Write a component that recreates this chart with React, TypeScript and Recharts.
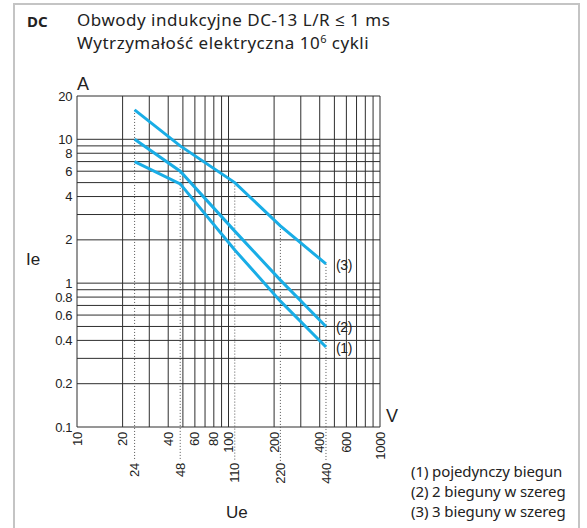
import React from 'react';
import { LineChart, Line, XAxis, YAxis, ReferenceLine } from 'recharts';

// napięcie Ue [V] w punktach załamania krzywych
const voltages = [24, 48, 110, 220, 440];
// prąd Ie [A] dla każdej krzywej
const onePole = [7, 4.9, 1.7, 0.75, 0.36];
const twoPoles = [10, 6, 2.3, 1.05, 0.5];
const threePoles = [16, 9, 5, 2.5, 1.36];

const xTicks = [10, 20, 40, 60, 80, 100, 200, 400, 600, 1000];
const xSubTicks = [24, 48, 110, 220, 440];
const yTicks = [0.1, 0.2, 0.4, 0.6, 0.8, 1, 2, 4, 6, 8, 10, 20];

const xGrid = [10, 20, 30, 40, 50, 60, 70, 80, 90, 100, 200, 300, 400, 500, 600, 700, 800, 900, 1000];
const yGrid = [0.1, 0.2, 0.3, 0.4, 0.5, 0.6, 0.7, 0.8, 0.9, 1, 2, 3, 4, 5, 6, 7, 8, 9, 10, 20];

const curveNames = ['(1)', '(2)', '(3)'];
const legendLines = ['(1) pojedynczy biegun', '(2) 2 bieguny w szereg', '(3) 3 bieguny w szereg'];

const data = voltages.map((v, i) => ({ v, c1: onePole[i], c2: twoPoles[i], c3: threePoles[i] }));

const BLUE = '#19ade6';
const GRID = '#2e2e2e';
const tickFont = '"Liberation Sans Narrow", "Liberation Sans", Arial, sans-serif';
const textFont = '"Noto Sans", "Open Sans", sans-serif';

const XTick = (props: any) => {
  const { x, y, payload } = props;
  return (
    <text x={x} y={y} transform={`rotate(-90 ${x} ${y})`} textAnchor="end" dy="0.35em"
      fontSize={13} letterSpacing={-0.3} fontFamily={tickFont} fill="#222">
      {payload.value}
    </text>
  );
};

const YTick = (props: any) => {
  const { x, y, payload } = props;
  return (
    <text x={x} y={y} textAnchor="end" dy="0.35em" fontSize={13} letterSpacing={-0.4} fontFamily={tickFont} fill="#222">
      {payload.value}
    </text>
  );
};

const endLabel = (name: string) => (props: any) => {
  const { x, y, index } = props;
  if (index !== voltages.length - 1) return null;
  return (
    <text key={name} x={x + 10} y={y + 1} dy="0.35em" fontSize={14} letterSpacing={-0.3} fontFamily={tickFont} fill="#222">
      {name}
    </text>
  );
};

export default function App() {
  return (
    <div style={{ position: 'absolute', left: 0, top: 0, width: 587, height: 528, background: '#fff', overflow: 'hidden' }}>
      <div style={{ position: 'absolute', left: 13, top: 3, width: 563, height: 540, border: '2px solid #c4c4c4' }} />
      <div style={{ position: 'absolute', left: 27, top: 11, fontFamily: textFont, fontSize: 15, fontWeight: 700, color: '#222' }}>DC</div>
      <div style={{ position: 'absolute', left: 77, top: 8, fontFamily: textFont, fontSize: 17, lineHeight: '23px', letterSpacing: 0.5, color: '#222' }}>
        Obwody indukcyjne DC-13 L/R ≤ 1 ms<br />
        Wytrzymałość elektryczna 10<sup style={{ fontSize: 11, verticalAlign: 'top', lineHeight: '16px' }}>6</sup> cykli
      </div>
      <LineChart width={587} height={528} data={data} margin={{ top: 96, right: 207, bottom: 31, left: 37 }}
        style={{ position: 'absolute', left: 0, top: 0 }}>
        <XAxis dataKey="v" type="number" scale="log" domain={[10, 1000]} allowDataOverflow ticks={xTicks}
          interval={0} axisLine={false} tickLine={false} tickSize={0} tickMargin={5} height={30} tick={<XTick />} />
        <XAxis xAxisId="sub" dataKey="v" type="number" scale="log" domain={[10, 1000]} allowDataOverflow ticks={xSubTicks}
          interval={0} axisLine={false} tickLine={false} tickSize={0} tickMargin={6} height={40} tick={<XTick />} />
        <YAxis type="number" scale="log" domain={[0.1, 20]} allowDataOverflow ticks={yTicks} interval={0}
          axisLine={false} tickLine={false} tickSize={0} tickMargin={5} width={40} tick={<YTick />} />
        {xGrid.map(g => (
          <ReferenceLine key={`x${g}`} x={g} stroke={GRID} strokeWidth={1} ifOverflow="visible" />
        ))}
        {yGrid.map(g => (
          <ReferenceLine key={`y${g}`} y={g} stroke={GRID} strokeWidth={1} ifOverflow="visible" />
        ))}
        {xSubTicks.map((v, i) => (
          <ReferenceLine key={`d${v}`} segment={[{ x: v, y: threePoles[i] }, { x: v, y: 0.058 }]}
            stroke="#555" strokeDasharray="1 2" ifOverflow="visible" />
        ))}
        <Line dataKey="c1" stroke={BLUE} strokeWidth={3} dot={false} isAnimationActive={false} label={endLabel(curveNames[0])} />
        <Line dataKey="c2" stroke={BLUE} strokeWidth={3} dot={false} isAnimationActive={false} label={endLabel(curveNames[1])} />
        <Line dataKey="c3" stroke={BLUE} strokeWidth={3} dot={false} isAnimationActive={false} label={endLabel(curveNames[2])} />
      </LineChart>
      <div style={{ position: 'absolute', left: 77, top: 74, fontFamily: tickFont, fontSize: 18, color: '#222' }}>A</div>
      <div style={{ position: 'absolute', left: 26, top: 250, fontFamily: tickFont, fontSize: 17, color: '#222' }}>Ie</div>
      <div style={{ position: 'absolute', left: 386, top: 406, fontFamily: tickFont, fontSize: 18, color: '#222' }}>V</div>
      <div style={{ position: 'absolute', left: 226, top: 503, fontFamily: tickFont, fontSize: 17, color: '#222' }}>Ue</div>
      <div style={{ position: 'absolute', left: 411, top: 461, fontFamily: textFont, fontSize: 15, lineHeight: '20px', letterSpacing: -0.1, color: '#222' }}>
        {legendLines.map(l => <div key={l}>{l}</div>)}
      </div>
    </div>
  );
}
